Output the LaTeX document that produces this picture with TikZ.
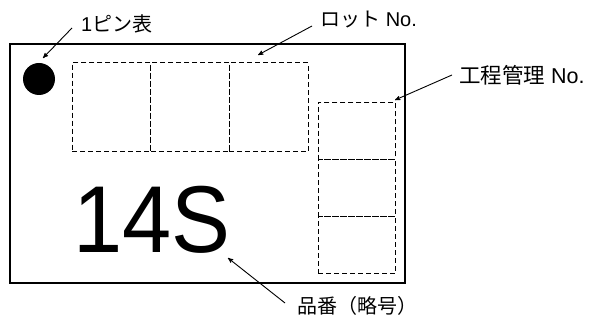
\documentclass[tikz,border=0pt]{standalone}
\usepackage{fontspec}
\setmainfont{Liberation Sans}
\newfontfamily\jp{Noto Sans CJK JP}
\usetikzlibrary{arrows}
\tikzstyle{board}=[draw,line width=1.2pt,minimum width=395pt,minimum height=239pt,inner sep=0pt]
\tikzstyle{lotbox}=[draw,line width=1pt,dash pattern=on 5pt off 3pt,minimum width=78.7pt,minimum height=89pt,inner sep=0pt]
\tikzstyle{procbox}=[draw,line width=1pt,dash pattern=on 5pt off 3pt,minimum width=77pt,minimum height=57.3pt,inner sep=0pt]
\tikzstyle{callout}=[inner sep=0pt,anchor=base west,font=\fontsize{20}{20}\selectfont]

\begin{document}
\begin{tikzpicture}
		[x=1pt,y=1pt, edge/.style = {->,> = stealth', line width=0.9pt}]
		\useasboundingbox (0,0) rectangle (591,320);
		\node[board] (chip) at (207.5,156.5) {};
		\node[circle,fill=black,minimum size=32pt,inner sep=0pt] (pin) at (39,241) {};
		
		\node[lotbox] (lot1) at (111.4,212.5) {};
		\node[lotbox] (lot2) at (190.1,212.5) {};
		\node[lotbox] (lot3) at (268.8,212.5) {};
		
		\node[procbox] (proc1) at (356.5,189.3) {};
		\node[procbox] (proc2) at (356.5,132) {};
		\node[procbox] (proc3) at (356.5,74.7) {};
		
		\node[inner sep=0pt,anchor=base west,font=\fontsize{95}{95}\selectfont] (mark) at (73,67) {\scalebox{0.93}[1]{14S}};
		
		\node[callout] (pinlab) at (81,288) {1{\jp ピン表}};
		\node[callout] (lotlab) at (320,293) {{\jp ロット} No.};
		\node[callout,font=\fontsize{21.5}{21.5}\selectfont] (proclab) at (459,236) {{\jp 工程管理} No.};
		\node[callout] (partlab) at (297,6) {{\jp 品番（略号）}};
		
		\coordinate (pintip) at (43,262);
		\coordinate (lottip) at (258,265);
		\coordinate (proctip) at (395,220);
		\coordinate (parttip) at (228,62);
		
		\draw[edge] ([shift={(-9,4)}]pinlab.base west) to (pintip);
		\draw[edge] ([shift={(-8,1)}]lotlab.base west) to (lottip);
		\draw[edge] ([shift={(-7,9)}]proclab.base west) to (proctip);
		\draw[edge] ([shift={(-12,11)}]partlab.base west) to (parttip);
		
		\end{tikzpicture}
\end{document}
